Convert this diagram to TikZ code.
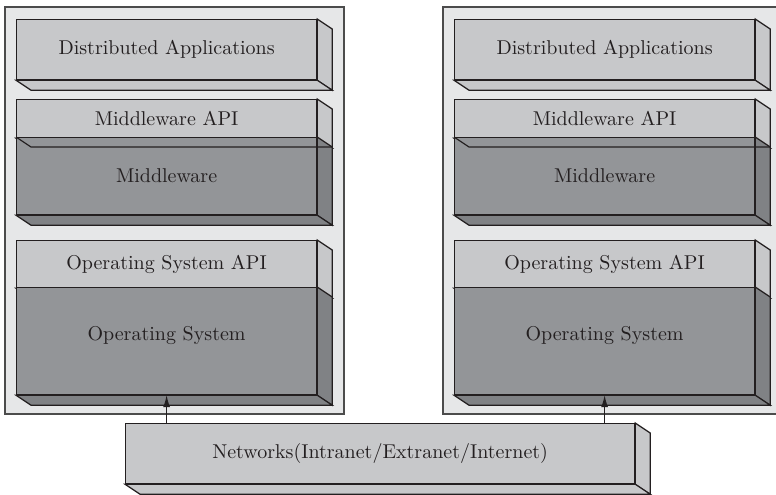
\documentclass[tikz,border=0pt]{standalone}
\usepackage{tikz}
\definecolor{panelgray}{RGB}{230,231,232}
\definecolor{layerlight}{RGB}{199,200,202}
\definecolor{layerdark}{RGB}{147,149,152}
\definecolor{layershade}{RGB}{128,130,133}
\definecolor{inkgray}{RGB}{35,31,32}
\usetikzlibrary{arrows.meta, positioning, calc}

% side and bottom faces of a slab whose front face is node #1
\newcommand{\slabdepth}[2]{%
  \draw[slab edge, fill=#2] (#1.north east) -- ++(15,10)
    -- ([shift={(15,10)}]#1.south east) -- (#1.south east) -- cycle;
  \draw[slab edge, fill=#2] (#1.south west) -- ++(15,10)
    -- ([shift={(15,10)}]#1.south east) -- (#1.south east) -- cycle;}

\begin{document}
\begin{tikzpicture}[
  x=0.5pt, y=-0.5pt,
  >={Latex[length=6pt,width=3.5pt]},
  every node/.style={font=\normalsize, text=inkgray},
  slab edge/.style={draw=inkgray, line width=0.6pt},
  layer/.style={slab edge, fill=layerlight, anchor=north west, inner sep=0pt,
                minimum width=150pt},
  core/.style={layer, fill=layerdark},
  panel/.style={draw=black!70, line width=0.8pt, fill=panelgray},
]
  \clip (0,0) rectangle (776,494);

  \foreach \s/\dx in {L/0, R/438} {
    \begin{scope}[shift={(\dx,0)}]
      \draw[panel] (5,7) rectangle (344,414);

      \node[layer, minimum height=30pt] (app\s) at (16,19) {Distributed Applications};
      \slabdepth{app\s}{layerlight}

      \node[layer, minimum height=19pt] (mwapi\s) at (16,99) {Middleware API};
      \slabdepth{mwapi\s}{layerlight}
      \node[core, minimum height=38.5pt] (mw\s) at (16,137) {Middleware};
      \slabdepth{mw\s}{layershade}
      \draw[slab edge] (mw\s.north west) -- ++(15,10)
        -- ([shift={(15,10)}]mw\s.north east);

      \node[layer, minimum height=23.5pt] (osapi\s) at (16,240) {Operating System API};
      \slabdepth{osapi\s}{layerlight}
      \node[core, minimum height=53.5pt, text depth=8pt] (os\s) at (16,287) {Operating System};
      \slabdepth{os\s}{layershade}
    \end{scope}
  }

  \node[layer, minimum width=254.5pt, minimum height=30pt] (net) at (125,423)
    {Networks(Intranet/Extranet/Internet)};
  \slabdepth{net}{layerlight}

  \foreach \s in {L, R}
    \draw[->, slab edge] (net.north -| os\s.south) -- (os\s.south);
\end{tikzpicture}
\end{document}
